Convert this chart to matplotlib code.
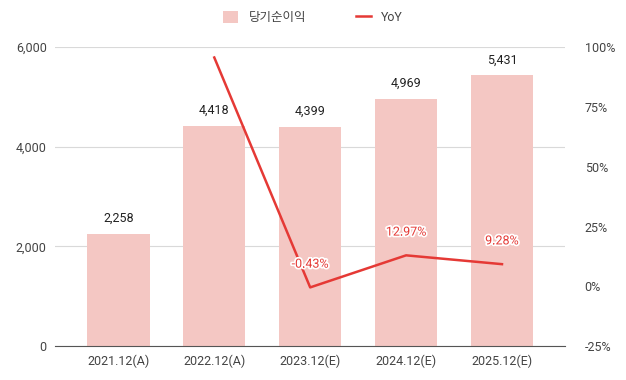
import matplotlib.pyplot as plt
from matplotlib.ticker import FuncFormatter
import matplotlib.patheffects as pe
import numpy as np

plt.rcParams['font.family'] = ['Roboto', 'Noto Sans CJK KR', 'DejaVu Sans']

years = ['2021.12(A)', '2022.12(A)', '2023.12(E)', '2024.12(E)', '2025.12(E)']
net_income = [2258, 4418, 4399, 4969, 5431]
yoy = [None, 95.66, -0.43, 12.97, 9.28]
yoy_labels = [None, None, '-0.43%', '12.97%', '9.28%']

bar_color = '#f4c7c3'
line_color = '#e53935'
text_color = '#444444'

fig = plt.figure(figsize=(6.26, 3.8), dpi=100)
ax = fig.add_axes([0.088, 0.089, 0.815, 0.787])
x = np.arange(len(years))

ax.bar(x, net_income, width=0.65, color=bar_color, zorder=2, label='당기순이익')
for xi, v in zip(x, net_income):
    ax.text(xi, v + 180, f'{v:,}', ha='center', va='bottom', fontsize=9, color='#222222')

ax.set_ylim(0, 6000)
ax.set_yticks([0, 2000, 4000, 6000])
ax.yaxis.set_major_formatter(FuncFormatter(lambda v, p: f'{int(v):,}'))
ax.set_xlim(-0.66, 4.66)
ax.set_xticks(x)
ax.set_xticklabels(years)
ax.grid(axis='y', color='#d9d9d9', linewidth=0.8, zorder=0)
for s in ['top', 'right', 'left']:
    ax.spines[s].set_visible(False)
ax.spines['bottom'].set_color('#555555')
ax.tick_params(axis='both', length=0, labelsize=9, colors=text_color, pad=6)

ax2 = ax.twinx()
xs = [xi for xi, v in zip(x, yoy) if v is not None]
ys = [v for v in yoy if v is not None]
ax2.plot(xs, ys, color=line_color, linewidth=1.8, zorder=3, label='YoY')
for xi, v, lab in zip(x, yoy, yoy_labels):
    if lab:
        ax2.text(xi, v + 7, lab, ha='center', va='bottom', fontsize=9, color=line_color,
                 path_effects=[pe.withStroke(linewidth=2.5, foreground='white')])
ax2.set_ylim(-25, 100)
ax2.set_yticks([-25, 0, 25, 50, 75, 100])
ax2.yaxis.set_major_formatter(FuncFormatter(lambda v, p: f'{int(v)}%'))
for s in ['top', 'right', 'left', 'bottom']:
    ax2.spines[s].set_visible(False)
ax2.tick_params(axis='y', length=0, labelsize=9, colors=text_color, pad=14)

h1, l1 = ax.get_legend_handles_labels()
h2, l2 = ax2.get_legend_handles_labels()
fig.legend(h1 + h2, l1 + l2, loc='upper center', bbox_to_anchor=(0.5, 1.0), ncol=2,
           frameon=False, fontsize=9, labelcolor=text_color, columnspacing=4,
           handlelength=1.2, handleheight=1.0)

fig.savefig('out.png', dpi=100)
